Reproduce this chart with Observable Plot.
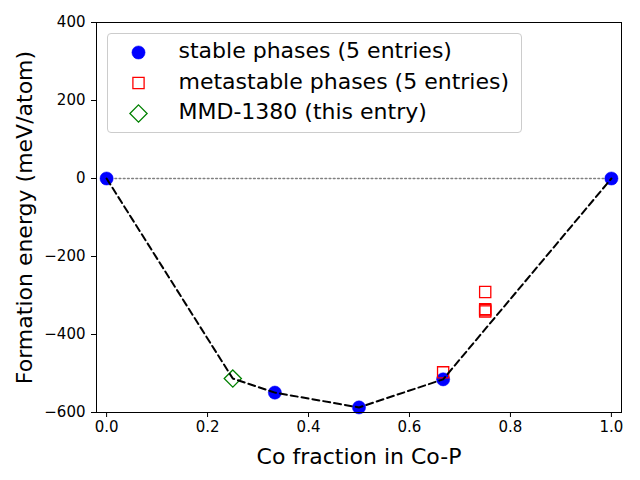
<!DOCTYPE html>
<html><head><meta charset="utf-8">
<script src="https://cdn.jsdelivr.net/npm/d3@7"></script>
<script src="https://cdn.jsdelivr.net/npm/@observablehq/plot@0.6"></script>
<style>body{margin:0;background:#fff} svg{display:block}</style>
</head><body><div id="chart"></div>
<script>
// Data
const stableX = [0, 1/3, 0.5, 2/3, 1];
const stableY = [0, -549, -587, -515, 0];
const metaX = [2/3, 0.75, 0.75, 0.75, 0.75];
const metaY = [-497, -291, -335, -338, -341];
const entryX = [0.25];
const entryY = [-513];
const hullX = [0, 0.25, 1/3, 0.5, 2/3, 1];
const hullY = [0, -513, -549, -587, -515, 0];
const zeroX = [0, 1];
const zeroY = [0, 0];
const xTicks = [0, 0.2, 0.4, 0.6, 0.8, 1.0];
const yTicks = [-600, -400, -200, 0, 200, 400];
const xLabel = "Co fraction in Co-P";
const yLabel = "Formation energy (meV/atom)";
const legendLabels = ["stable phases (5 entries)", "metastable phases (5 entries)", "MMD-1380 (this entry)"];

const zip = (xs, ys) => xs.map((x, i) => ({x, y: ys[i]}));
const stable = zip(stableX, stableY);
const meta = zip(metaX, metaY);
const entry = zip(entryX, entryY);
const hull = zip(hullX, hullY);
const zero = zip(zeroX, zeroY);

const squareSym = {draw(ctx, size){ const h = Math.sqrt(size/Math.PI); ctx.moveTo(-h,-h); ctx.lineTo(h,-h); ctx.lineTo(h,h); ctx.lineTo(-h,h); ctx.closePath(); }};
const diamondSym = {draw(ctx, size){ const h = Math.sqrt(size/Math.PI); ctx.moveTo(0,-h); ctx.lineTo(h,0); ctx.lineTo(0,h); ctx.lineTo(-h,0); ctx.closePath(); }};

const FONT = "DejaVu Sans, sans-serif";

const plot = Plot.plot({
  width: 640,
  height: 480,
  marginLeft: 96,
  marginRight: 19,
  marginTop: 22,
  marginBottom: 68,
  style: {fontFamily: FONT, fontSize: "15px", color: "black", background: "white"},
  x: {domain: [-0.02, 1.02]},
  y: {domain: [-600, 400]},
  marks: [
    Plot.line(zero, {x: "x", y: "y", stroke: "gray", strokeWidth: 1.6, strokeDasharray: "1.6,2.6"}),
    Plot.dot(stable, {x: "x", y: "y", r: 6.6, fill: "#0000ff", stroke: "#0000ff", strokeWidth: 0.5}),
    Plot.dot(meta, {x: "x", y: "y", r: 5.6, symbol: squareSym, fill: "none", stroke: "#ff0000", strokeWidth: 1.3}),
    Plot.dot(entry, {x: "x", y: "y", r: 8.6, symbol: diamondSym, fill: "none", stroke: "#008000", strokeWidth: 1.3}),
    Plot.line(hull, {x: "x", y: "y", stroke: "black", strokeWidth: 2, strokeDasharray: "7,4"}),
    Plot.frame({stroke: "black", strokeWidth: 1}),
    Plot.axisX({ticks: xTicks, tickFormat: d3.format(".1f"), tickSize: 5, tickPadding: 4, fontSize: 15, label: null}),
    Plot.axisY({ticks: yTicks, tickFormat: d3.format("d"), tickSize: 5, tickPadding: 6, fontSize: 15, label: null}),
    Plot.text([xLabel], {frameAnchor: "bottom", lineAnchor: "bottom", textAnchor: "middle", dy: 51, fontSize: 22, fill: "black"}),
    Plot.text([yLabel], {frameAnchor: "left", textAnchor: "middle", lineAnchor: "middle", rotate: -90, dx: -72, fontSize: 22, fill: "black"})
  ]
});

document.getElementById("chart").appendChild(plot);

// Legend (matplotlib style, upper left inside axes)
const svg = d3.select(plot);
const lg = svg.append("g").attr("transform", "translate(107.5,33.5)");
lg.append("rect").attr("width", 414).attr("height", 99).attr("rx", 3.5)
  .attr("fill", "white").attr("fill-opacity", 0.8).attr("stroke", "#cccccc").attr("stroke-width", 1);
const rows = [
  {sym: d3.symbolCircle, r: 6.6, fill: "#0000ff", stroke: "#0000ff", sw: 0.5},
  {sym: squareSym, r: 5.6, fill: "none", stroke: "#ff0000", sw: 1.3},
  {sym: diamondSym, r: 8.6, fill: "none", stroke: "#008000", sw: 1.3}
];
rows.forEach((row, i) => {
  const cy = 19 + i * 30.5;
  lg.append("path").attr("transform", `translate(31,${cy})`)
    .attr("d", d3.symbol(row.sym, row.r * row.r * Math.PI)())
    .attr("fill", row.fill).attr("stroke", row.stroke).attr("stroke-width", row.sw);
  lg.append("text").attr("x", 71).attr("y", cy + 5.5)
    .attr("text-anchor", "start")
    .attr("font-family", FONT).attr("font-size", 22).attr("fill", "black")
    .text(legendLabels[i]);
});
</script>
</body></html>
